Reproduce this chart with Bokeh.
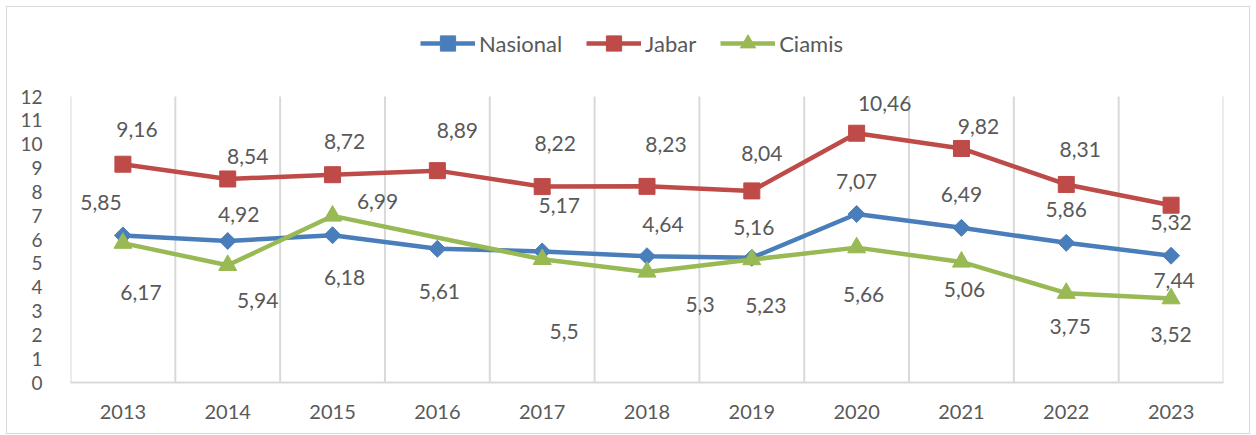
from bokeh.plotting import figure
from bokeh.models import FixedTicker, Legend, LegendItem, ColumnDataSource, Range1d
from bokeh.core.properties import value
from bokeh.embed import file_html
from bokeh.resources import INLINE

years = ["2013", "2014", "2015", "2016", "2017", "2018", "2019", "2020", "2021", "2022", "2023"]
nasional = [6.17, 5.94, 6.18, 5.61, 5.5, 5.3, 5.23, 7.07, 6.49, 5.86, 5.32]
jabar = [9.16, 8.54, 8.72, 8.89, 8.22, 8.23, 8.04, 10.46, 9.82, 8.31, 7.44]
ciamis = [5.85, 4.92, 6.99, None, 5.17, 4.64, 5.16, 5.66, 5.06, 3.75, 3.52]
y_ticks = [0, 1, 2, 3, 4, 5, 6, 7, 8, 9, 10, 11, 12]

# data-label screen offsets (px), as placed in the original chart
nas_dx = [18, 30, 12, 2, 22, 53, 14, 0, 0, 0, 0]
nas_dy = [57, 60, 42, 43, 80, 48, 48, -33, -33, -33, -33]
jab_dx = [14, 20, 12, 20, 13, 19, 10, 28, 17, 14, 3]
jab_dy = [-35, -22, -33, -40, -43, -42, -37, -30, -22, -35, 75]
cia_dx = [-22, 11, 45, 0, 17, 16, 2, 7, 3, 4, 0]
cia_dy = [-41, -51, -14, 0, -54, -47, -32, 47, 28, 33, 36]

BLUE = "#4A7EBB"
RED = "#BE4B48"
GREEN = "#98B954"
TXT = "#595959"
GRID = "#D9D9D9"
FONT = "Lato"

xs = list(range(len(years)))
y_max = y_ticks[-1]
# extra headroom above the top tick holds the legend
y_top = y_max + 3.19

p = figure(width=1244, height=428, output_backend="svg", toolbar_location=None,
           x_range=Range1d(-0.5, len(years) - 0.5), y_range=Range1d(0, y_top),
           min_border_left=63, min_border_right=28, min_border_top=13, min_border_bottom=53)
p.styles = {"margin-left": "6px", "margin-top": "6px", "border": "1px solid #D9D9D9"}
p.outline_line_color = None
p.background_fill_color = "white"
p.border_fill_color = "white"

# axes
p.xaxis.ticker = FixedTicker(ticks=xs)
p.xaxis.major_label_overrides = {i: y for i, y in enumerate(years)}
p.xaxis.axis_line_color = GRID
p.xaxis.axis_line_width = 2
p.xaxis.major_tick_line_color = None
p.xaxis.minor_tick_line_color = None
p.xaxis.major_label_text_font = FONT
p.xaxis.major_label_text_font_size = "20px"
p.xaxis.major_label_text_color = TXT
p.xaxis.major_label_standoff = 16

p.yaxis.ticker = FixedTicker(ticks=y_ticks)
p.yaxis.axis_line_color = None
p.yaxis.major_tick_line_color = None
p.yaxis.minor_tick_line_color = None
p.yaxis.major_label_text_font = FONT
p.yaxis.major_label_text_font_size = "19px"
p.yaxis.major_label_text_color = TXT
p.yaxis.major_label_standoff = 22

p.xgrid.visible = False
p.ygrid.visible = False

# vertical category-boundary grid lines, 0 .. top tick
bounds = [i - 0.5 for i in range(len(years) + 1)]
p.segment(x0=bounds, y0=[0] * len(bounds), x1=bounds, y1=[y_max] * len(bounds),
          line_color=GRID, line_width=2)

# series
n_line = p.line(xs, nasional, line_color=BLUE, line_width=4.5)
n_mark = p.scatter(xs, nasional, marker="square", angle=0.7854, size=12, fill_color=BLUE, line_color=BLUE)

j_line = p.line(xs, jabar, line_color=RED, line_width=4.5)
j_mark = p.scatter(xs, jabar, marker="square", size=16, fill_color=RED, line_color=RED)

cx = [x for x, v in zip(xs, ciamis) if v is not None]
cy = [v for v in ciamis if v is not None]
c_line = p.line(cx, cy, line_color=GREEN, line_width=4.5)
c_mark = p.scatter(cx, cy, marker="triangle", size=18, fill_color=GREEN, line_color=GREEN)

def fmt(v):
    s = ("%.2f" % v).rstrip("0").rstrip(".")
    return s.replace(".", ",")

def labels(vals, dx, dy):
    xx, yy, tt, ox, oy = [], [], [], [], []
    for i, v in enumerate(vals):
        if v is None:
            continue
        xx.append(xs[i]); yy.append(v); tt.append(fmt(v)); ox.append(dx[i]); oy.append(dy[i])
    src = ColumnDataSource(dict(x=xx, y=yy, t=tt, ox=ox, oy=oy))
    p.text(x="x", y="y", text="t", x_offset="ox", y_offset="oy", source=src,
           text_font=value(FONT), text_font_size="21px", text_color=TXT,
           text_align="center", text_baseline="middle")

labels(nasional, nas_dx, nas_dy)
labels(jabar, jab_dx, jab_dy)
labels(ciamis, cia_dx, cia_dy)

legend = Legend(items=[
    LegendItem(label="Nasional", renderers=[n_line, n_mark]),
    LegendItem(label="Jabar", renderers=[j_line, j_mark]),
    LegendItem(label="Ciamis", renderers=[c_line, c_mark]),
], orientation="horizontal", location=(350, 320),
    label_text_font=FONT, label_text_font_size="22px", label_text_color=TXT,
    glyph_width=55, glyph_height=38, spacing=24, label_standoff=4,
    border_line_color=None, background_fill_alpha=0, padding=0, margin=0)
p.add_layout(legend, "center")

open("out.html", "w").write(file_html(p, INLINE))
